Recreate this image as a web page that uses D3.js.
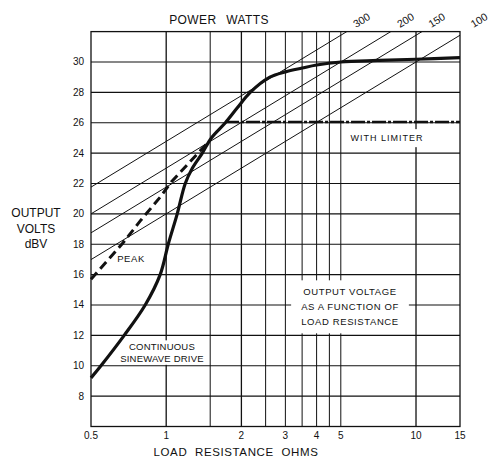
<!doctype html>
<html lang="en">
<head>
  <meta charset="utf-8">
  <title>Output voltage vs load resistance</title>
  <script src="https://cdnjs.cloudflare.com/ajax/libs/d3/7.8.5/d3.min.js"></script>
  <style>
    body { margin: 0; background: #fff; }
    svg text { font-family: "Liberation Sans", Arial, sans-serif; fill: #111; }
  </style>
</head>
<body>
<div id="chart"></div>
<script>

// load resistance (ohms) grid and ticks
var gridR = [1, 1.5, 2, 2.5, 3, 3.5, 4, 4.5, 5, 10];
var xTicks = [0.5, 1, 2, 3, 4, 5, 10, 15];
var xTickLabels = ["0.5", "1", "2", "3", "4", "5", "10", "15"];
var yTicks = [8, 10, 12, 14, 16, 18, 20, 22, 24, 26, 28, 30];

// constant power lines (watts)
var powerW = [300, 200, 150, 100];

// continuous sinewave drive
var sineR = [0.5, 0.548, 0.679, 0.824, 0.946, 1.019, 1.107, 1.192, 1.272, 1.395, 1.516, 1.725, 1.93, 2.17, 2.6, 3.0, 3.5, 4.0, 5.0, 7.0, 10, 15];
var sineV = [9.2, 10.0, 12.0, 14.0, 16.0, 18.0, 20.0, 22.0, 23.0, 24.0, 25.0, 26.0, 27.0, 28.0, 29.0, 29.35, 29.6, 29.8, 30.0, 30.1, 30.18, 30.28];

// peak
var peakR = [0.5, 0.672, 0.793, 0.946, 1.048, 1.45];
var peakV = [15.7, 18.1, 19.6, 21.1, 22.1, 24.6];

// with limiter
var limR = [1.72, 15];
var limV = [26.05, 26.05];

var W = 491, H = 459;
var svg = d3.select("#chart").append("svg").attr("width", W).attr("height", H);
svg.append("rect").attr("width", W).attr("height", H).attr("fill", "#fff");

var x = d3.scaleLog().domain([0.5, 15]).range([91, 460]);
var y = d3.scaleLinear().domain([6, 32]).range([426.5, 31.6]);

svg.append("clipPath").attr("id", "plot")
  .append("rect")
  .attr("x", x(0.5)).attr("y", y(32))
  .attr("width", x(15) - x(0.5)).attr("height", y(6) - y(32));

// grid
var g = svg.append("g");
g.selectAll(".vg").data(gridR).enter().append("line")
  .attr("x1", d => x(d)).attr("x2", d => x(d))
  .attr("y1", y(32)).attr("y2", y(6))
  .attr("stroke", "#111").attr("stroke-width", d => (d == 1 || d == 2 || d == 10) ? 1.3 : 1);
g.selectAll(".hg").data(yTicks).enter().append("line")
  .attr("x1", x(0.5)).attr("x2", x(15))
  .attr("y1", d => y(d)).attr("y2", d => y(d))
  .attr("stroke", "#111").attr("stroke-width", 1.2);

// power lines: V(dBV) = 10 log10(P) + 10 log10(R)
var pl = svg.append("g").attr("clip-path", "url(#plot)");
powerW.forEach(function(p) {
  var r0 = 0.5, r1 = 15;
  pl.append("line")
    .attr("x1", x(r0)).attr("y1", y(10 * Math.log10(p * r0)))
    .attr("x2", x(r1)).attr("y2", y(10 * Math.log10(p * r1)))
    .attr("stroke", "#111").attr("stroke-width", 1);
});

var ang = -Math.atan((y(20) - y(30)) / (x(10) - x(1))) * 180 / Math.PI;
powerW.forEach(function(p) {
  var v = 32.75;
  var r = Math.pow(10, (v - 10 * Math.log10(p)) / 10);
  var px = x(r) - 4, py = y(v);
  svg.append("text")
    .attr("transform", "translate(" + Math.min(px, 479) + "," + py + ") rotate(" + ang + ")")
    .attr("text-anchor", "middle").attr("dy", "0.35em")
    .attr("font-size", 10.5).text(p);
});

// frame
svg.append("rect")
  .attr("x", x(0.5)).attr("y", y(32))
  .attr("width", x(15) - x(0.5)).attr("height", y(6) - y(32))
  .attr("fill", "none").attr("stroke", "#111").attr("stroke-width", 1.3);

// text boxes with white backgrounds
function label(lines, cx, cy, size, lh, pad, spacing) {
  var t = svg.append("g");
  var tx = t.append("text").attr("text-anchor", "middle")
    .attr("font-size", size).attr("letter-spacing", spacing || 0);
  lines.forEach(function(s, i) {
    tx.append("tspan").attr("x", cx).attr("y", cy + i * lh).attr("dy", "0.35em").text(s);
  });
  var b = tx.node().getBBox();
  t.insert("rect", "text")
    .attr("x", b.x - pad[0]).attr("y", b.y - pad[1])
    .attr("width", b.width + 2 * pad[0]).attr("height", b.height + 2 * pad[1])
    .attr("fill", "#fff");
}

label(["OUTPUT VOLTAGE", "AS A FUNCTION OF", "LOAD RESISTANCE"], 350, 292, 9.5, 15, [10, 6], 0.6);
label(["WITH LIMITER"], 387, 138, 9, 0, [5, 4], 1);
label(["CONTINUOUS", "SINEWAVE DRIVE"], 162, 347, 9.5, 11.5, [2, 1], 0.2);
label(["PEAK"], 131, 259, 9.5, 0, [2, 2], 0.6);

// curves
svg.append("path")
  .datum(sineR.map((r, i) => [r, sineV[i]]))
  .attr("d", d3.line().x(d => x(d[0])).y(d => y(d[1])).curve(d3.curveCatmullRom.alpha(0.5)))
  .attr("fill", "none").attr("stroke", "#111").attr("stroke-width", 3.2);

svg.append("path")
  .datum(peakR.map((r, i) => [r, peakV[i]]))
  .attr("d", d3.line().x(d => x(d[0])).y(d => y(d[1])))
  .attr("fill", "none").attr("stroke", "#111").attr("stroke-width", 3)
  .attr("stroke-dasharray", "9,5");

svg.append("path")
  .datum(limR.map((r, i) => [r, limV[i]]))
  .attr("d", d3.line().x(d => x(d[0])).y(d => y(d[1])))
  .attr("fill", "none").attr("stroke", "#111").attr("stroke-width", 2.6)
  .attr("stroke-dasharray", "14,2,3,2");

// axes labels
svg.selectAll(".yl").data(yTicks).enter().append("text")
  .attr("x", 84).attr("y", d => y(d)).attr("dy", "0.35em")
  .attr("text-anchor", "end").attr("font-size", 10).text(d => d);

svg.selectAll(".xl").data(xTicks).enter().append("text")
  .attr("x", d => x(d)).attr("y", 435).attr("dy", "0.35em")
  .attr("text-anchor", "middle").attr("font-size", 10)
  .text((d, i) => xTickLabels[i]);

svg.append("text").attr("x", 219).attr("y", 20).attr("dy", "0.35em")
  .attr("text-anchor", "middle").attr("font-size", 12).attr("letter-spacing", 0.4)
  .attr("word-spacing", 6).text("POWER WATTS");

svg.append("text").attr("x", 236).attr("y", 452).attr("dy", "0.35em")
  .attr("text-anchor", "middle").attr("font-size", 11.5).attr("letter-spacing", 0.6)
  .attr("word-spacing", 4).text("LOAD RESISTANCE OHMS");

var yt = svg.append("text").attr("text-anchor", "middle").attr("font-size", 12);
["OUTPUT", "VOLTS", "dBV"].forEach(function(s, i) {
  yt.append("tspan").attr("x", 36).attr("y", 213 + i * 15.5).attr("dy", "0.35em").text(s);
});

</script>
</body>
</html>
